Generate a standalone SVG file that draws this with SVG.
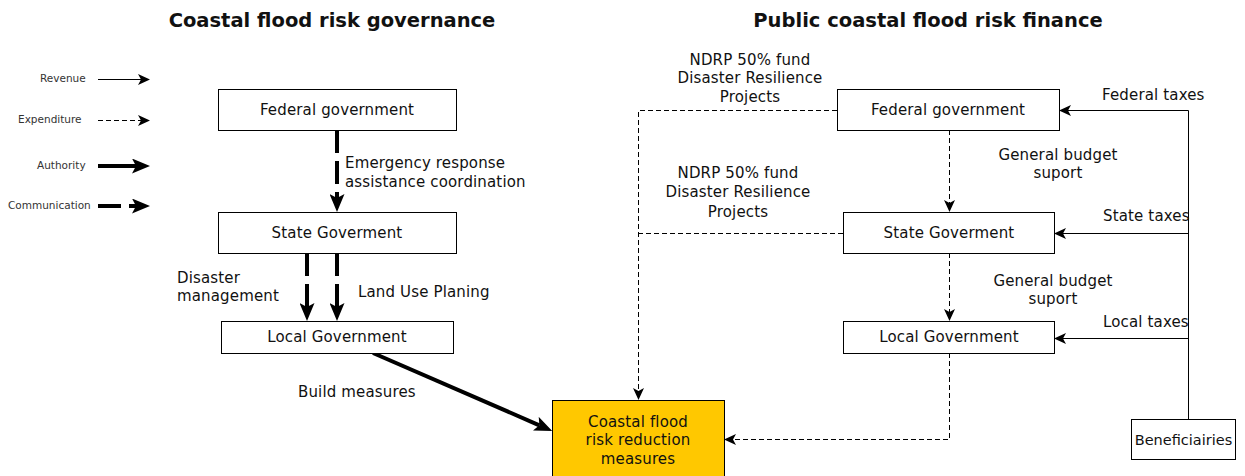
<svg xmlns="http://www.w3.org/2000/svg" width="1245" height="476" viewBox="0 0 1245 476">
<style>
  text { font-family: "DejaVu Sans", "Liberation Sans", sans-serif; font-size: 15px; letter-spacing: 0.15px; fill: #111; }
  .title { font-size: 19.5px; letter-spacing: 0; font-weight: bold; text-anchor: middle; }
  .legend { font-size: 10.5px; letter-spacing: 0; fill: #333; }
  .mid { text-anchor: middle; }
  .box { fill: #fff; stroke: #000; stroke-width: 1; }
  .yellow { fill: #FFC800; stroke: #000; stroke-width: 1; }
  .rev { fill: none; stroke: #000; stroke-width: 1; marker-end: url(#mThin); }
  .exp { fill: none; stroke: #000; stroke-width: 1; stroke-dasharray: 5 3; }
  .expA { fill: none; stroke: #000; stroke-width: 1; stroke-dasharray: 5 3; marker-end: url(#mThin); }
  .auth { fill: none; stroke: #000; stroke-width: 4; marker-end: url(#mThick); }
  .comm { fill: none; stroke: #000; stroke-width: 4; stroke-dasharray: 23 8; marker-end: url(#mThick); }
  .line { fill: none; stroke: #000; stroke-width: 1; }
</style>
<defs>
  <marker id="mThin" markerUnits="userSpaceOnUse" markerWidth="12" markerHeight="11" refX="3" refY="5.5" orient="auto" viewBox="0 0 12 11">
    <path d="M0,0 L12,5.5 L0,11 L3,5.5 Z" fill="#000"/>
  </marker>
  <marker id="mThick" markerUnits="userSpaceOnUse" markerWidth="18" markerHeight="15" refX="4" refY="7.5" orient="auto" viewBox="0 0 18 15">
    <path d="M0,0 L18,7.5 L0,15 L4,7.5 Z" fill="#000"/>
  </marker>
</defs>

<!-- Titles -->
<text class="title" x="332" y="27">Coastal flood risk governance</text>
<text class="title" x="928" y="27">Public coastal flood risk finance</text>

<!-- Legend -->
<g id="legend">
  <text class="legend" x="40" y="82">Revenue</text>
  <line class="rev" x1="98" y1="79.5" x2="141" y2="79.5"/>
  <text class="legend" x="18" y="123">Expenditure</text>
  <line class="expA" x1="98" y1="120.5" x2="141" y2="120.5"/>
  <text class="legend" x="37" y="169">Authority</text>
  <line class="auth" x1="98" y1="166" x2="136" y2="166"/>
  <text class="legend" x="8" y="209">Communication</text>
  <line class="comm" x1="98" y1="206" x2="136" y2="206"/>
</g>

<!-- Connectors -->
<g id="connectors">
  <!-- governance -->
  <line class="comm" x1="337" y1="130" x2="337" y2="198"/>
  <line class="comm" x1="307" y1="253" x2="307" y2="307"/>
  <line class="comm" x1="337" y1="253" x2="337" y2="307"/>
  <line class="auth" x1="373" y1="353" x2="539.4" y2="425.3"/>
  <!-- finance -->
  <line class="expA" x1="949.5" y1="130" x2="949.5" y2="203"/>
  <line class="expA" x1="949.5" y1="253" x2="949.5" y2="312"/>
  <path class="expA" d="M949.5,353 V439.5 H733"/>
  <path class="expA" d="M837,110.5 H638.5 V391"/>
  <path class="exp" d="M843,233.5 H638.5"/>
  <path class="line" d="M1188.5,419 V110.5 H1068" marker-end="url(#mThin)"/>
  <path class="rev" d="M1188.5,233.5 H1063"/>
  <path class="rev" d="M1188.5,338.5 H1063"/>
</g>

<!-- Connector labels -->
<g id="labels">
  <text x="345" y="168">Emergency response</text>
  <text x="345" y="187">assistance coordination</text>
  <text x="177" y="283">Disaster</text>
  <text x="177" y="301">management</text>
  <text x="358" y="297">Land Use Planing</text>
  <text x="298" y="397">Build measures</text>
  <text class="mid" x="750" y="65">NDRP 50% fund</text>
  <text class="mid" x="750" y="83">Disaster Resilience</text>
  <text class="mid" x="750" y="102">Projects</text>
  <text class="mid" x="738" y="178">NDRP 50% fund</text>
  <text class="mid" x="738" y="197">Disaster Resilience</text>
  <text class="mid" x="738" y="217">Projects</text>
  <text x="1102" y="100">Federal taxes</text>
  <text class="mid" x="1058" y="160">General budget</text>
  <text class="mid" x="1058" y="178">suport</text>
  <text x="1103" y="221">State taxes</text>
  <text class="mid" x="1053" y="286">General budget</text>
  <text class="mid" x="1053" y="304">suport</text>
  <text x="1103" y="327">Local taxes</text>
</g>

<!-- Governance nodes -->
<g id="gov-federal">
  <rect class="box" x="218.5" y="89.5" width="238" height="41"/>
  <text class="mid" x="337" y="115">Federal government</text>
</g>
<g id="gov-state">
  <rect class="box" x="218.5" y="212.5" width="238" height="41"/>
  <text class="mid" x="337" y="238">State Goverment</text>
</g>
<g id="gov-local">
  <rect class="box" x="221.5" y="321.5" width="232" height="32"/>
  <text class="mid" x="337" y="342">Local Government</text>
</g>

<!-- Measures -->
<g id="measures">
  <rect class="yellow" x="552.5" y="400.5" width="172" height="80"/>
  <text class="mid" x="638" y="427">Coastal flood</text>
  <text class="mid" x="638" y="445">risk reduction</text>
  <text class="mid" x="638" y="464">measures</text>
</g>

<!-- Finance nodes -->
<g id="fin-federal">
  <rect class="box" x="837.5" y="89.5" width="222" height="41"/>
  <text class="mid" x="948" y="115">Federal government</text>
</g>
<g id="fin-state">
  <rect class="box" x="843.5" y="212.5" width="211" height="41"/>
  <text class="mid" x="949" y="238">State Goverment</text>
</g>
<g id="fin-local">
  <rect class="box" x="843.5" y="321.5" width="211" height="32"/>
  <text class="mid" x="949" y="342">Local Government</text>
</g>
<g id="beneficiaries">
  <rect class="box" x="1131.5" y="419.5" width="104" height="40"/>
  <text class="mid" x="1183.5" y="445" style="font-size:14.5px;letter-spacing:0">Beneficiairies</text>
</g>
</svg>
